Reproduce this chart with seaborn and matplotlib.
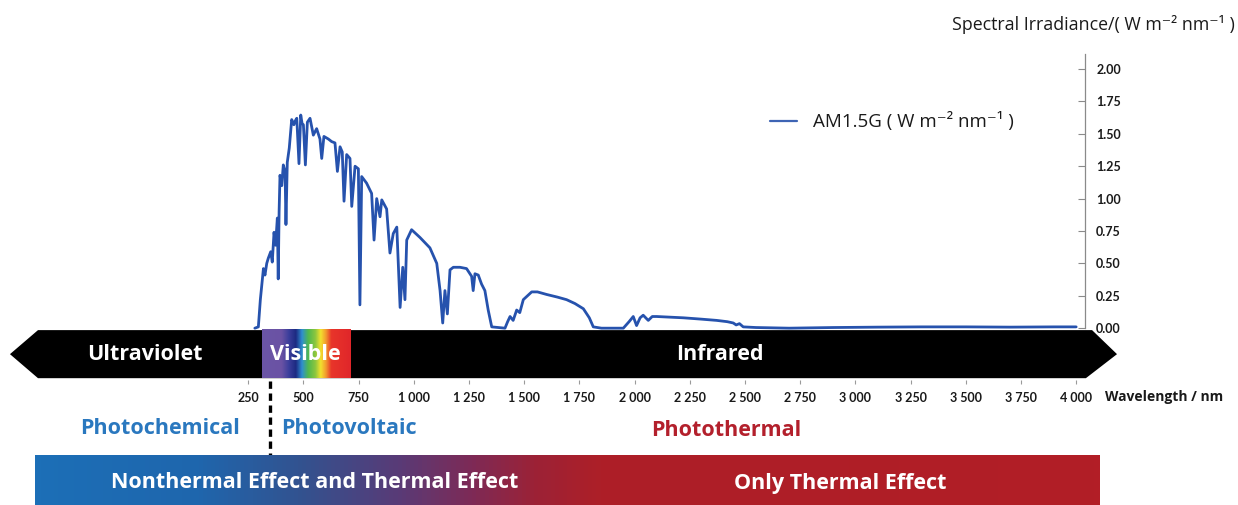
import numpy as np
import pandas as pd
import matplotlib
matplotlib.use("Agg")
import matplotlib.pyplot as plt
from matplotlib.colors import LinearSegmentedColormap
from matplotlib.patches import Polygon
import seaborn as sns

# ---------------- data ----------------
wavelength_nm = [
    280, 296, 305, 319, 326, 334, 341, 352, 359, 367,
    374, 382, 386, 390, 394, 402, 409, 417, 421, 427,
    436, 447, 457, 463, 470, 480, 488, 494, 500, 509,
    518, 530, 545, 560, 575, 583, 593, 613, 628, 643,
    654, 666, 676, 684, 696, 711, 719, 734, 749, 756,
    764, 786, 809, 820, 832, 847, 855, 877, 892, 907,
    923, 930, 938, 950, 960, 968, 990, 1028, 1073, 1104,
    1119, 1131, 1141, 1152, 1164, 1179, 1209, 1239, 1262, 1269,
    1277, 1292, 1307, 1322, 1337, 1353, 1413, 1425, 1436, 1450,
    1466, 1480, 1496, 1515, 1534, 1560, 1602, 1650, 1692, 1730,
    1768, 1795, 1813, 1850, 1949, 1975, 1994, 2009, 2025, 2039,
    2062, 2080, 2100, 2160, 2221, 2300, 2372, 2420, 2447, 2460,
    2475, 2492, 2550, 2700, 2900, 3100, 3300, 3500, 3700, 3900,
    4000,
]
irradiance = [
    0.00, 0.01, 0.22, 0.46, 0.41, 0.50, 0.54, 0.59, 0.51, 0.74,
    0.64, 0.85, 0.38, 0.90, 1.18, 1.10, 1.26, 1.21, 0.80, 1.28,
    1.39, 1.61, 1.57, 1.60, 1.62, 1.27, 1.645, 1.58, 1.57, 1.26,
    1.59, 1.62, 1.49, 1.54, 1.46, 1.31, 1.48, 1.46, 1.44, 1.43,
    1.21, 1.40, 1.36, 0.98, 1.34, 1.31, 0.94, 1.25, 1.23, 0.18,
    1.17, 1.12, 1.04, 0.68, 1.00, 0.86, 0.99, 0.92, 0.58, 0.73,
    0.78, 0.50, 0.16, 0.47, 0.22, 0.68, 0.76, 0.70, 0.62, 0.50,
    0.29, 0.04, 0.29, 0.11, 0.45, 0.47, 0.47, 0.46, 0.40, 0.29,
    0.42, 0.41, 0.34, 0.29, 0.14, 0.01, 0.00, 0.05, 0.09, 0.06,
    0.14, 0.12, 0.22, 0.25, 0.28, 0.28, 0.26, 0.24, 0.22, 0.19,
    0.15, 0.08, 0.01, 0.00, 0.00, 0.05, 0.09, 0.02, 0.08, 0.10,
    0.06, 0.09, 0.09, 0.085, 0.08, 0.07, 0.06, 0.05, 0.04, 0.025,
    0.035, 0.01, 0.005, 0.00, 0.005, 0.008, 0.01, 0.01, 0.008, 0.01,
    0.01,
]
assert len(wavelength_nm) == len(irradiance)

x_ticks = [250, 500, 750, 1000, 1250, 1500, 1750, 2000, 2250, 2500,
           2750, 3000, 3250, 3500, 3750, 4000]
x_tick_labels = ["250", "500", "750", "1 000", "1 250", "1 500", "1 750", "2 000",
                 "2 250", "2 500", "2 750", "3 000", "3 250", "3 500", "3 750", "4 000"]
y_ticks = [0.00, 0.25, 0.50, 0.75, 1.00, 1.25, 1.50, 1.75, 2.00]
y_tick_labels = ["0.00", "0.25", "0.50", "0.75", "1.00", "1.25", "1.50", "1.75", "2.00"]

legend_label = "AM1.5G ( W m\u207b\u00b2 nm\u207b\u00b9 )"
y_title = "Spectral Irradiance/( W m\u207b\u00b2 nm\u207b\u00b9 )"
x_title = "Wavelength / nm"
band_labels = ["Ultraviolet", "Visible", "Infrared"]
effect_labels = ["Photochemical", "Photovoltaic", "Photothermal"]
bar_labels = ["Nonthermal Effect and Thermal Effect", "Only Thermal Effect"]

# ---------------- style ----------------
LINE = "#2652ad"
BLUE_TXT = "#2a78bf"
RED_TXT = "#b3202c"
BIG = ["Open Sans", "DejaVu Sans"]
TICKF = ["Lato", "DejaVu Sans"]

sns.set_theme(style="white")
plt.rcParams["font.family"] = ["Open Sans", "DejaVu Sans"]

W, H = 1238, 505
fig = plt.figure(figsize=(W / 100, H / 100), dpi=100)
ax = fig.add_axes([193 / W, 125 / H, 892 / W, 326.5 / H])

df = pd.DataFrame({"Wavelength": wavelength_nm, "Irradiance": irradiance})
sns.lineplot(data=df, x="Wavelength", y="Irradiance", ax=ax, color=LINE,
             linewidth=2.0, label=legend_label, sort=False, estimator=None, zorder=3)

XMIN, XMAX = 0, 4040
YMIN, YMAX = -0.40, 2.12
BAND_TOP, BAND_BOT = -0.015, -0.386
BAND_MID = (BAND_TOP + BAND_BOT) / 2

# black double arrow band
band = Polygon([(-829, BAND_MID), (-702, BAND_TOP), (4072, BAND_TOP), (4185, BAND_MID),
                (4044, BAND_BOT), (-702, BAND_BOT)], closed=True,
               facecolor="black", edgecolor="none", clip_on=False, zorder=1)
ax.add_patch(band)

# visible rainbow
rainbow = LinearSegmentedColormap.from_list("vis", [
    (0.00, "#6b55a6"), (0.22, "#6a52a4"), (0.30, "#3c3f9c"), (0.38, "#1d2a82"),
    (0.45, "#2f8fd0"), (0.52, "#4fb84e"), (0.60, "#8cc63f"), (0.66, "#f2e22e"),
    (0.72, "#f39a2e"), (0.78, "#e8352a"), (1.00, "#e0262a")])
grad = np.linspace(0, 1, 256).reshape(1, -1)
ax.imshow(grad, extent=[312, 711, BAND_BOT, BAND_TOP], aspect="auto", cmap=rainbow,
          zorder=1.5, interpolation="bilinear")

band_font = dict(color="white", fontsize=15.5, fontweight="bold", ha="center",
                 va="center", family=BIG)
ax.text(-217, BAND_MID, band_labels[0], **band_font, clip_on=False)
ax.text(507, BAND_MID, band_labels[1], **band_font)
ax.text(2387, BAND_MID, band_labels[2], **band_font)

# divider & effect labels
ax.plot([349, 349], [-0.405, -0.985], color="black", lw=2.4, ls=(0, (2.2, 1.4)),
        clip_on=False, zorder=2)
eff_y = -0.772
eff_font = dict(fontsize=15.5, fontweight="bold", va="center", family=BIG, clip_on=False)
ax.text(-149, eff_y, effect_labels[0], color=BLUE_TXT, ha="center", **eff_font)
ax.text(400, eff_y, effect_labels[1], color=BLUE_TXT, ha="left", **eff_font)
ax.text(2414, eff_y - 0.015, effect_labels[2], color=RED_TXT, ha="center", **eff_font)

ax.set_xlim(XMIN, XMAX)
ax.set_ylim(YMIN, YMAX)

for s in ["left", "top", "bottom"]:
    ax.spines[s].set_visible(False)
ax.spines["right"].set_visible(True)
ax.spines["right"].set_bounds(0, YMAX)
ax.spines["right"].set_color("#8a8a8a")
ax.spines["right"].set_linewidth(0.9)

ax.yaxis.tick_right()
ax.set_yticks(y_ticks)
ax.set_yticklabels(y_tick_labels, fontweight="bold", fontsize=9, family=TICKF)
ax.tick_params(axis="y", which="both", right=True, left=False, direction="in",
               length=5, width=0.8, color="#8a8a8a", pad=8, labelcolor="#1a1a1a")
ax.set_xticks(x_ticks)
ax.set_xticklabels(x_tick_labels, fontweight="bold", fontsize=9, family=TICKF)
ax.tick_params(axis="x", bottom=True, direction="out", length=3, width=0.8,
               color="#9a9a9a", pad=6, labelcolor="#1a1a1a")
ax.set_xlabel("")
ax.set_ylabel("")
ax.grid(False)

leg = ax.legend(loc="center left", bbox_to_anchor=(770 / W, 1 - 122 / H),
                bbox_transform=fig.transFigure, frameon=False,
                prop={"family": BIG, "size": 13.5},
                handlelength=1.45, handletextpad=0.85, borderpad=0, borderaxespad=0)
for t in leg.get_texts():
    t.set_color("#1a1a1a")
for l in leg.get_lines():
    l.set_linewidth(1.6)
    l.set_color("#3e64b4")

fig.text(1235 / W, 1 - 25 / H, y_title, ha="right", va="center", fontsize=12.8,
         color="#1a1a1a", family=BIG)
fig.text(1105 / W, 1 - 397 / H, x_title, ha="left", va="center", fontsize=10,
         fontweight="bold", color="#1a1a1a", family=BIG)

# bottom gradient bar
bar_cmap = LinearSegmentedColormap.from_list("bar", [
    (0.00, "#1c6fb7"), (0.15, "#1f66ad"), (0.25, "#33528f"), (0.34, "#593b77"),
    (0.41, "#7e2a56"), (0.47, "#9c2236"), (0.53, "#ad1f28"), (1.00, "#b21e26")])
bax = fig.add_axes([35 / W, 0, 1065 / W, 50 / H])
bax.imshow(grad, extent=[0, 1, 0, 1], aspect="auto", cmap=bar_cmap, interpolation="bilinear")
bax.set_xlim(0, 1)
bax.set_ylim(0, 1)
bax.axis("off")
bar_font = dict(color="white", fontsize=15.5, fontweight="bold", ha="center",
                va="center", family=BIG)
bax.text(0.263, 0.44, bar_labels[0], **bar_font)
bax.text(0.756, 0.44, bar_labels[1], **bar_font)

fig.savefig("out.png", dpi=100)
